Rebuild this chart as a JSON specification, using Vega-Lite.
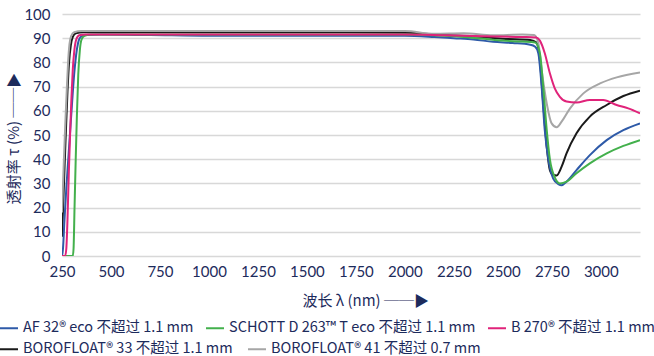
{
  "$schema": "https://vega.github.io/schema/vega-lite/v6.json",
  "width": 578,
  "height": 242,
  "autosize": {"type": "none"},
  "padding": {"left": 62, "top": 14, "right": 14, "bottom": 100},
  "background": "white",
  "datasets": {
    "names": [
      {"k": "a", "name": "AF 32® eco 不超过 1.1 mm"},
      {"k": "b", "name": "SCHOTT D 263™ T eco 不超过 1.1 mm"},
      {"k": "c", "name": "B 270® 不超过 1.1 mm"},
      {"k": "d", "name": "BOROFLOAT® 33 不超过 1.1 mm"},
      {"k": "e", "name": "BOROFLOAT® 41 不超过 0.7 mm"}
    ],
    "curves": [
      {"k": "a", "x": 250, "y": 0}, {"k": "a", "x": 255, "y": 3}, {"k": "a", "x": 262, "y": 14}, {"k": "a", "x": 272, "y": 28}, {"k": "a", "x": 282, "y": 40}, {"k": "a", "x": 292, "y": 52}, {"k": "a", "x": 302, "y": 64}, {"k": "a", "x": 312, "y": 75}, {"k": "a", "x": 322, "y": 83}, {"k": "a", "x": 332, "y": 88}, {"k": "a", "x": 345, "y": 90.5}, {"k": "a", "x": 370, "y": 91.3}, {"k": "a", "x": 450, "y": 91.5}, {"k": "a", "x": 700, "y": 91.3}, {"k": "a", "x": 1000, "y": 91.0}, {"k": "a", "x": 1500, "y": 91.0}, {"k": "a", "x": 2000, "y": 91.0}, {"k": "a", "x": 2150, "y": 90.5}, {"k": "a", "x": 2250, "y": 90.0}, {"k": "a", "x": 2350, "y": 89.5}, {"k": "a", "x": 2450, "y": 88.5}, {"k": "a", "x": 2550, "y": 88.0}, {"k": "a", "x": 2640, "y": 87.3}, {"k": "a", "x": 2665, "y": 86.5}, {"k": "a", "x": 2681, "y": 83.8}, {"k": "a", "x": 2698, "y": 70}, {"k": "a", "x": 2714, "y": 52}, {"k": "a", "x": 2732, "y": 40}, {"k": "a", "x": 2757, "y": 32}, {"k": "a", "x": 2783, "y": 29.7}, {"k": "a", "x": 2800, "y": 29.2}, {"k": "a", "x": 2825, "y": 30.7}, {"k": "a", "x": 2876, "y": 35.5}, {"k": "a", "x": 2944, "y": 41.7}, {"k": "a", "x": 3030, "y": 47.9}, {"k": "a", "x": 3115, "y": 52}, {"k": "a", "x": 3200, "y": 54.8},
      {"k": "b", "x": 250, "y": 0}, {"k": "b", "x": 305, "y": 0}, {"k": "b", "x": 309, "y": 3}, {"k": "b", "x": 314, "y": 20}, {"k": "b", "x": 320, "y": 40}, {"k": "b", "x": 326, "y": 58}, {"k": "b", "x": 333, "y": 75}, {"k": "b", "x": 341, "y": 85}, {"k": "b", "x": 350, "y": 89.5}, {"k": "b", "x": 365, "y": 91}, {"k": "b", "x": 400, "y": 91.5}, {"k": "b", "x": 1000, "y": 91.5}, {"k": "b", "x": 1500, "y": 91.5}, {"k": "b", "x": 2000, "y": 91.5}, {"k": "b", "x": 2200, "y": 91}, {"k": "b", "x": 2300, "y": 90.5}, {"k": "b", "x": 2400, "y": 89.8}, {"k": "b", "x": 2500, "y": 89}, {"k": "b", "x": 2600, "y": 88.6}, {"k": "b", "x": 2665, "y": 88.2}, {"k": "b", "x": 2689, "y": 83.8}, {"k": "b", "x": 2706, "y": 70}, {"k": "b", "x": 2724, "y": 52}, {"k": "b", "x": 2740, "y": 40}, {"k": "b", "x": 2765, "y": 32.5}, {"k": "b", "x": 2791, "y": 30}, {"k": "b", "x": 2825, "y": 30.7}, {"k": "b", "x": 2876, "y": 34.2}, {"k": "b", "x": 2944, "y": 38.3}, {"k": "b", "x": 3030, "y": 42.4}, {"k": "b", "x": 3115, "y": 45.5}, {"k": "b", "x": 3200, "y": 47.9},
      {"k": "c", "x": 250, "y": 0}, {"k": "c", "x": 266, "y": 0}, {"k": "c", "x": 272, "y": 3}, {"k": "c", "x": 278, "y": 15}, {"k": "c", "x": 285, "y": 35}, {"k": "c", "x": 292, "y": 52}, {"k": "c", "x": 298, "y": 65}, {"k": "c", "x": 305, "y": 77}, {"k": "c", "x": 313, "y": 85}, {"k": "c", "x": 323, "y": 89.5}, {"k": "c", "x": 338, "y": 91.2}, {"k": "c", "x": 370, "y": 91.5}, {"k": "c", "x": 1000, "y": 91.5}, {"k": "c", "x": 1500, "y": 91.5}, {"k": "c", "x": 2000, "y": 91.5}, {"k": "c", "x": 2200, "y": 91.2}, {"k": "c", "x": 2400, "y": 90.8}, {"k": "c", "x": 2600, "y": 90.5}, {"k": "c", "x": 2670, "y": 90.3}, {"k": "c", "x": 2689, "y": 89}, {"k": "c", "x": 2714, "y": 83.8}, {"k": "c", "x": 2740, "y": 75.5}, {"k": "c", "x": 2765, "y": 69.3}, {"k": "c", "x": 2791, "y": 65.8}, {"k": "c", "x": 2825, "y": 63.8}, {"k": "c", "x": 2876, "y": 63.4}, {"k": "c", "x": 2944, "y": 64.5}, {"k": "c", "x": 3012, "y": 64.5}, {"k": "c", "x": 3081, "y": 62.4}, {"k": "c", "x": 3140, "y": 61}, {"k": "c", "x": 3200, "y": 59},
      {"k": "d", "x": 250, "y": 8}, {"k": "d", "x": 260, "y": 30}, {"k": "d", "x": 270, "y": 52}, {"k": "d", "x": 278, "y": 68}, {"k": "d", "x": 286, "y": 80}, {"k": "d", "x": 295, "y": 87}, {"k": "d", "x": 305, "y": 90.5}, {"k": "d", "x": 320, "y": 92}, {"k": "d", "x": 360, "y": 92.5}, {"k": "d", "x": 1000, "y": 92.5}, {"k": "d", "x": 1500, "y": 92.5}, {"k": "d", "x": 2000, "y": 92.3}, {"k": "d", "x": 2200, "y": 91.3}, {"k": "d", "x": 2350, "y": 90.8}, {"k": "d", "x": 2500, "y": 89.8}, {"k": "d", "x": 2640, "y": 89.3}, {"k": "d", "x": 2672, "y": 88.2}, {"k": "d", "x": 2689, "y": 81}, {"k": "d", "x": 2706, "y": 63}, {"k": "d", "x": 2724, "y": 45.2}, {"k": "d", "x": 2740, "y": 35.5}, {"k": "d", "x": 2757, "y": 33.5}, {"k": "d", "x": 2775, "y": 33.3}, {"k": "d", "x": 2800, "y": 36.9}, {"k": "d", "x": 2825, "y": 42.4}, {"k": "d", "x": 2876, "y": 50.7}, {"k": "d", "x": 2944, "y": 57.6}, {"k": "d", "x": 3030, "y": 62.4}, {"k": "d", "x": 3115, "y": 66.1}, {"k": "d", "x": 3200, "y": 68.3},
      {"k": "e", "x": 250, "y": 18}, {"k": "e", "x": 258, "y": 36}, {"k": "e", "x": 266, "y": 53}, {"k": "e", "x": 274, "y": 68}, {"k": "e", "x": 281, "y": 80}, {"k": "e", "x": 288, "y": 87.5}, {"k": "e", "x": 297, "y": 91}, {"k": "e", "x": 312, "y": 92.5}, {"k": "e", "x": 350, "y": 93}, {"k": "e", "x": 1000, "y": 93}, {"k": "e", "x": 1500, "y": 93}, {"k": "e", "x": 2000, "y": 93}, {"k": "e", "x": 2150, "y": 91.8}, {"k": "e", "x": 2300, "y": 92}, {"k": "e", "x": 2450, "y": 91.2}, {"k": "e", "x": 2600, "y": 91.5}, {"k": "e", "x": 2660, "y": 91.3}, {"k": "e", "x": 2681, "y": 88}, {"k": "e", "x": 2698, "y": 76.9}, {"k": "e", "x": 2724, "y": 63}, {"k": "e", "x": 2749, "y": 54.8}, {"k": "e", "x": 2775, "y": 53.2}, {"k": "e", "x": 2800, "y": 55.5}, {"k": "e", "x": 2843, "y": 61}, {"k": "e", "x": 2911, "y": 67.2}, {"k": "e", "x": 2996, "y": 71.3}, {"k": "e", "x": 3081, "y": 73.8}, {"k": "e", "x": 3200, "y": 75.8}
    ]
  },
  "data": {"name": "curves"},
  "transform": [
    {"lookup": "k", "from": {"data": {"name": "names"}, "key": "k", "fields": ["name"]}}
  ],
  "encoding": {
    "x": {
      "field": "x", "type": "quantitative",
      "scale": {"domain": [250, 3200], "nice": false, "zero": false},
      "axis": {
        "values": [250, 500, 750, 1000, 1250, 1500, 1750, 2000, 2250, 2500, 2750, 3000],
        "format": "d",
        "title": "波长 λ (nm) ──▶",
        "grid": false, "domain": false, "ticks": false,
        "labelPadding": 8, "labelFontSize": 15, "labelColor": "#1d2b5c",
        "labelFont": "Lato, Noto Sans CJK SC", "labelFlush": false,
        "titleFont": "Noto Sans CJK SC", "titleFontSize": 15, "titleFontWeight": "normal", "titleColor": "#1d2b5c",
        "titleX": 240, "titleY": 44, "titleAlign": "left", "titleBaseline": "middle", "titleAnchor": null
      }
    },
    "y": {
      "field": "y", "type": "quantitative",
      "scale": {"domain": [0, 100], "nice": false},
      "axis": {
        "values": [0, 10, 20, 30, 40, 50, 60, 70, 80, 90, 100],
        "title": "透射率 τ (%) ──▶",
        "grid": true, "gridColor": "#d8d8d8", "gridWidth": 1.5,
        "domain": false, "ticks": false,
        "labelPadding": 12, "labelFontSize": 15, "labelColor": "#1d2b5c", "labelFont": "Lato, Noto Sans CJK SC",
        "titleFont": "Noto Sans CJK SC", "titleFontSize": 15, "titleFontWeight": "normal", "titleColor": "#1d2b5c",
        "titleX": -49, "titleY": 124, "titleAngle": 270, "titleAlign": "center", "titleBaseline": "middle", "titleAnchor": null
      }
    }
  },
  "layer": [
    {
      "transform": [{"filter": {"field": "k", "oneOf": ["d", "e"]}}],
      "mark": {"type": "line", "strokeWidth": 2, "interpolate": "monotone", "clip": true},
      "encoding": {
        "stroke": {
          "field": "name", "type": "nominal", "sort": null,
          "scale": {
            "domain": ["BOROFLOAT® 33 不超过 1.1 mm", "BOROFLOAT® 41 不超过 0.7 mm"],
            "range": ["#1a1a1a", "#a6a6a6"]
          },
          "legend": {
            "title": null, "orient": "none", "legendX": -63, "legendY": 325,
            "direction": "horizontal", "columns": 2,
            "columnPadding": 11, "padding": 0,
            "symbolType": "stroke", "symbolSize": 324, "symbolStrokeWidth": 2,
            "labelFont": "Noto Sans CJK SC", "labelFontSize": 14.5, "labelColor": "#1d2b5c",
            "labelLimit": 0, "labelOffset": 4
          }
        }
      }
    },
    {
      "transform": [{"filter": {"field": "k", "oneOf": ["a", "b", "c"]}}],
      "mark": {"type": "line", "strokeWidth": 2, "interpolate": "monotone", "clip": true},
      "encoding": {
        "color": {
          "field": "name", "type": "nominal", "sort": null,
          "scale": {
            "domain": ["AF 32® eco 不超过 1.1 mm", "SCHOTT D 263™ T eco 不超过 1.1 mm", "B 270® 不超过 1.1 mm"],
            "range": ["#2e5aa8", "#43b04c", "#e0237a"]
          },
          "legend": {
            "title": null, "orient": "none", "legendX": -63, "legendY": 304,
            "direction": "horizontal", "columns": 3,
            "columnPadding": 8, "padding": 0,
            "symbolType": "stroke", "symbolSize": 324, "symbolStrokeWidth": 2,
            "labelFont": "Noto Sans CJK SC", "labelFontSize": 14.5, "labelColor": "#1d2b5c",
            "labelLimit": 0, "labelOffset": 4
          }
        },
        "detail": {"field": "k"}
      }
    }
  ],
  "config": {"view": {"stroke": null}}
}
